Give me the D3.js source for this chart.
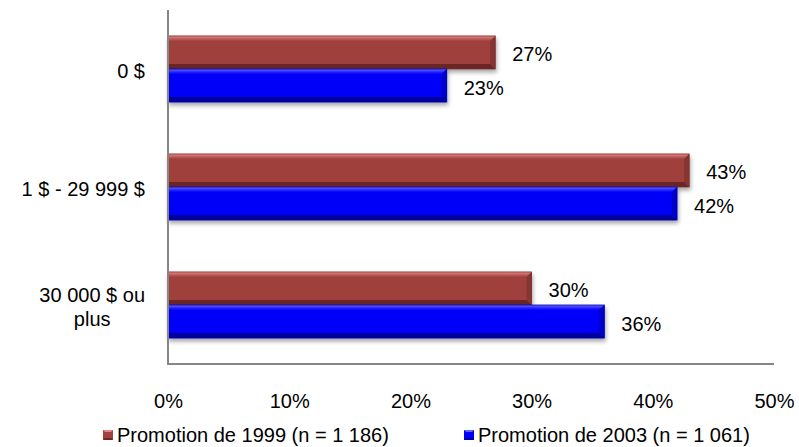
<!DOCTYPE html>
<html>
<head>
<meta charset="utf-8">
<script src="https://cdn.jsdelivr.net/npm/d3@7"></script>
<style>
  html, body { margin: 0; padding: 0; background: #fff; }
  svg { display: block; font-family: "Liberation Sans", Arial, Helvetica, sans-serif; }
</style>
</head>
<body>
<svg id="chart" width="799" height="447"></svg>
<script>
// Income categories (vertical axis) and the two cohorts' shares, in percent
const categories = ["0 $", "1 $ - 29 999 $", "30 000 $ ou plus"];
const seriesNames = ["Promotion de 1999 (n = 1 186)", "Promotion de 2003 (n = 1 061)"];
const values1999 = [27, 43, 30];
const values2003 = [23, 42, 36];
const xTicks = [0, 10, 20, 30, 40, 50];

const svg = d3.select("#chart");
const margin = { left: 168, right: 25, top: 10, bottom: 83 };
const W = 799, H = 447;
const plotRight = W - margin.right;
const plotBottom = H - margin.bottom;

const x = d3.scaleLinear().domain([0, 50]).range([margin.left, plotRight]);
const y = d3.scaleBand().domain(categories).range([margin.top, plotBottom])
  .paddingInner(0.44).paddingOuter(0.22);
const sub = d3.scaleBand().domain([0, 1]).range([0, y.bandwidth()]);

// Colour sets for the bevelled bars: base, light top edge, dark bottom edge, right cap
const palettes = [
  { base: "#a0413e", light: "#e48683", dark: "#6a2725", cap: "#853431", stroke: "#7a302e" },
  { base: "#0000fa", light: "#6464ff", dark: "#00009a", cap: "#0000c4", stroke: "#0000b0" }
];

const defs = svg.append("defs");
const shadow = defs.append("filter").attr("id", "barShadow")
  .attr("x", "-5%").attr("y", "-20%").attr("width", "115%").attr("height", "160%");
shadow.append("feDropShadow").attr("dx", 1).attr("dy", 3).attr("stdDeviation", 2)
  .attr("flood-color", "#000").attr("flood-opacity", 0.35);

palettes.forEach((p, i) => {
  const g = defs.append("linearGradient").attr("id", "topGrad" + i)
    .attr("x1", 0).attr("y1", 0).attr("x2", 0).attr("y2", 1);
  g.append("stop").attr("offset", "0%").attr("stop-color", p.light);
  g.append("stop").attr("offset", "100%").attr("stop-color", p.base);
});

const rows = [];
categories.forEach((c, ci) => {
  [values1999, values2003].forEach((vals, si) => rows.push({ cat: c, s: si, v: vals[ci] }));
});

// Bars
const bars = svg.append("g").selectAll("g.bar").data(rows).join("g")
  .attr("class", "bar").attr("filter", "url(#barShadow)");

bars.each(function (d) {
  const g = d3.select(this);
  const p = palettes[d.s];
  const x0 = x(0), x1 = x(d.v);
  const y0 = y(d.cat) + sub(d.s), y1 = y0 + sub.bandwidth();
  const b = 5;
  g.append("rect").attr("x", x0).attr("y", y0).attr("width", x1 - x0).attr("height", y1 - y0)
    .attr("fill", p.base);
  g.append("path").attr("d", `M${x0},${y0}L${x1},${y0}L${x1 - b},${y0 + b}L${x0},${y0 + b}Z`)
    .attr("fill", `url(#topGrad${d.s})`);
  g.append("path").attr("d", `M${x0},${y1}L${x1},${y1}L${x1 - b},${y1 - b}L${x0},${y1 - b}Z`)
    .attr("fill", p.dark);
  g.append("path").attr("d", `M${x1},${y0}L${x1},${y1}L${x1 - b},${y1 - b}L${x1 - b},${y0 + b}Z`)
    .attr("fill", p.cap);
  g.append("rect").attr("x", x0).attr("y", y0).attr("width", x1 - x0).attr("height", y1 - y0)
    .attr("fill", "none").attr("stroke", p.stroke).attr("stroke-width", 0.8);
});

// Value labels
svg.append("g").selectAll("text").data(rows).join("text")
  .attr("x", d => x(d.v) + 17)
  .attr("y", d => y(d.cat) + sub(d.s) + sub.bandwidth() / 2 + 2)
  .attr("dy", "0.35em")
  .attr("font-size", 20).attr("fill", "#000")
  .text(d => d.v + "%");

// Axes lines
const axisColor = "#868686";
svg.append("line").attr("x1", x(0)).attr("x2", x(0)).attr("y1", margin.top).attr("y2", plotBottom)
  .attr("stroke", axisColor).attr("stroke-width", 2);
svg.append("line").attr("x1", x(0) - 1).attr("x2", plotRight).attr("y1", plotBottom).attr("y2", plotBottom)
  .attr("stroke", axisColor).attr("stroke-width", 2);

// Horizontal tick labels, placed via a bottom axis with hidden ticks
const xAxis = svg.append("g").attr("transform", `translate(0,${plotBottom + 30})`)
  .call(d3.axisBottom(x).tickValues(xTicks).tickFormat(d => d + "%").tickSize(0).tickPadding(0));
xAxis.select(".domain").remove();
xAxis.selectAll("text").attr("font-size", 20).attr("fill", "#000")
  .attr("font-family", "'Liberation Sans', Arial, sans-serif").attr("dy", "0.71em");

// Category labels, wrapped and centred as a block that ends at the axis gap
const catG = svg.append("g");
const labelRight = 145, wrapWidth = 136, lineH = 24;
categories.forEach(c => {
  const words = c.split(" ");
  const lines = [];
  const probe = catG.append("text").attr("font-size", 20);
  let cur = "";
  words.forEach(w => {
    const t = cur ? cur + " " + w : w;
    probe.text(t);
    if (probe.node().getComputedTextLength() > wrapWidth && cur) { lines.push(cur); cur = w; }
    else cur = t;
  });
  lines.push(cur);
  const widths = lines.map(l => { probe.text(l); return probe.node().getComputedTextLength(); });
  probe.remove();
  const blockW = d3.max(widths);
  const cx = labelRight - blockW / 2;
  const cy = y(c) + y.bandwidth() / 2 + 2;
  const t = catG.append("text").attr("font-size", 20).attr("text-anchor", "middle").attr("fill", "#000");
  lines.forEach((l, i) => {
    t.append("tspan").attr("x", cx)
      .attr("y", cy + (i - (lines.length - 1) / 2) * lineH)
      .attr("dy", "0.35em").text(l);
  });
});

// Legend
const legendX = [103, 464];
const leg = svg.append("g").selectAll("g").data(seriesNames).join("g")
  .attr("transform", (d, i) => `translate(${legendX[i]},${H - 12})`);
leg.each(function (d, i) {
  const g = d3.select(this);
  const p = palettes[i];
  const s = 10, b = 2;
  g.append("rect").attr("x", 0).attr("y", -s / 2).attr("width", s).attr("height", s).attr("fill", p.base);
  g.append("path").attr("d", `M0,${-s / 2}L${s},${-s / 2}L${s - b},${-s / 2 + b}L${b},${-s / 2 + b}Z`).attr("fill", p.light);
  g.append("path").attr("d", `M0,${s / 2}L${s},${s / 2}L${s - b},${s / 2 - b}L${b},${s / 2 - b}Z`).attr("fill", p.dark);
  g.append("text").attr("x", s + 4).attr("y", 0).attr("dy", "0.35em")
    .attr("font-size", 20).attr("fill", "#000").text(d);
});
</script>
</body>
</html>
